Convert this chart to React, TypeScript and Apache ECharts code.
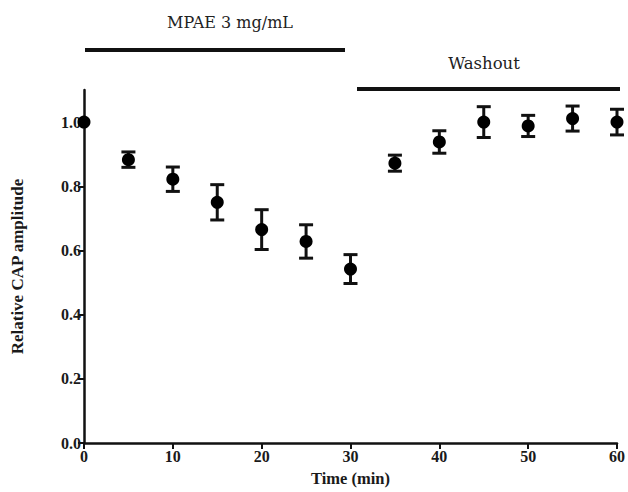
import React, { useEffect, useRef } from "react";
import * as echarts from "echarts";

const times = [0, 5, 10, 15, 20, 25, 30, 35, 40, 45, 50, 55, 60];
const means = [1.0, 0.883, 0.822, 0.75, 0.665, 0.628, 0.542, 0.872, 0.938, 1.0, 0.988, 1.011, 1.0];
const errors = [0, 0.024, 0.038, 0.055, 0.062, 0.052, 0.045, 0.025, 0.035, 0.048, 0.033, 0.039, 0.04];
const yTicks = [0, 0.2, 0.4, 0.6, 0.8, 1.0];
const xTicks = [0, 10, 20, 30, 40, 50, 60];
const treatmentLabel = "MPAE 3 mg/mL";
const washoutLabel = "Washout";

export default function App() {
  const ref = useRef<HTMLDivElement>(null);
  useEffect(() => {
    document.body.style.margin = "0";
    document.body.style.overflow = "hidden";
    const chart = echarts.init(ref.current!, null, { renderer: "svg" });
    const serif = "'Liberation Serif', 'Times New Roman', serif";
    const errData = times.map((t, i) => [t, means[i] - errors[i], means[i] + errors[i]]);
    chart.setOption({
      animation: false,
      backgroundColor: "#ffffff",
      grid: { left: 84, right: 9, top: 90, bottom: 46, containLabel: false },
      xAxis: {
        type: "value",
        min: 0,
        max: 60,
        interval: 10,
        name: "Time (min)",
        nameLocation: "middle",
        nameGap: 27,
        nameTextStyle: { fontFamily: serif, fontWeight: "bold", fontSize: 16.5, color: "#1a1a1a" },
        axisLine: { lineStyle: { color: "#111", width: 2.5 } },
        axisTick: { length: 6, lineStyle: { color: "#111", width: 2 }, customValues: xTicks },
        axisLabel: { fontFamily: serif, fontWeight: "bold", fontSize: 16, color: "#1a1a1a", margin: 5, customValues: xTicks },
        splitLine: { show: false },
      },
      yAxis: {
        type: "value",
        min: 0,
        max: 1.1,
        interval: 0.2,
        name: "Relative CAP amplitude",
        nameLocation: "middle",
        nameGap: 58,
        nameTextStyle: { fontFamily: serif, fontWeight: "bold", fontSize: 17, color: "#1a1a1a" },
        axisLine: { show: true, lineStyle: { color: "#111", width: 2.5 } },
        axisTick: { show: true, length: 6, lineStyle: { color: "#111", width: 2 }, customValues: yTicks },
        axisLabel: {
          fontFamily: serif,
          fontWeight: "bold",
          fontSize: 16,
          color: "#1a1a1a",
          margin: 3,
          customValues: yTicks,
          formatter: (v: number) => v.toFixed(1),
        },
        splitLine: { show: false },
      },
      graphic: [
        { type: "line", shape: { x1: 85, y1: 50, x2: 345, y2: 50 }, style: { stroke: "#111", lineWidth: 4 } },
        { type: "line", shape: { x1: 357, y1: 89, x2: 620, y2: 89 }, style: { stroke: "#111", lineWidth: 4 } },
        {
          type: "text",
          x: 230,
          y: 22,
          style: {
            text: treatmentLabel,
            fontFamily: "'DejaVu Serif', serif",
            fontSize: 16,
            fill: "#222",
            textAlign: "center",
            textVerticalAlign: "middle",
          },
        },
        {
          type: "text",
          x: 484,
          y: 63,
          style: {
            text: washoutLabel,
            fontFamily: "'DejaVu Serif', serif",
            fontSize: 16.5,
            fill: "#222",
            textAlign: "center",
            textVerticalAlign: "middle",
          },
        },
      ],
      series: [
        {
          type: "custom",
          data: errData,
          clip: false,
          renderItem: (params: any, api: any) => {
            const x = api.value(0);
            const lo = api.coord([x, api.value(1)]);
            const hi = api.coord([x, api.value(2)]);
            if (Math.abs(hi[1] - lo[1]) < 1) return { type: "group", children: [] };
            const hw = 7;
            const st = { stroke: "#111", lineWidth: 3 };
            return {
              type: "group",
              children: [
                { type: "line", shape: { x1: lo[0], y1: lo[1], x2: hi[0], y2: hi[1] }, style: st },
                { type: "line", shape: { x1: lo[0] - hw, y1: lo[1], x2: lo[0] + hw, y2: lo[1] }, style: st },
                { type: "line", shape: { x1: hi[0] - hw, y1: hi[1], x2: hi[0] + hw, y2: hi[1] }, style: st },
              ],
            };
          },
          z: 2,
        },
        {
          type: "scatter",
          data: times.map((t, i) => [t, means[i]]),
          symbol: "circle",
          symbolSize: 13,
          itemStyle: { color: "#000", opacity: 1 },
          clip: false,
          z: 3,
        },
      ],
    });
    return () => chart.dispose();
  }, []);
  return <div ref={ref} style={{ width: 628, height: 492, overflow: "hidden" }} />;
}
